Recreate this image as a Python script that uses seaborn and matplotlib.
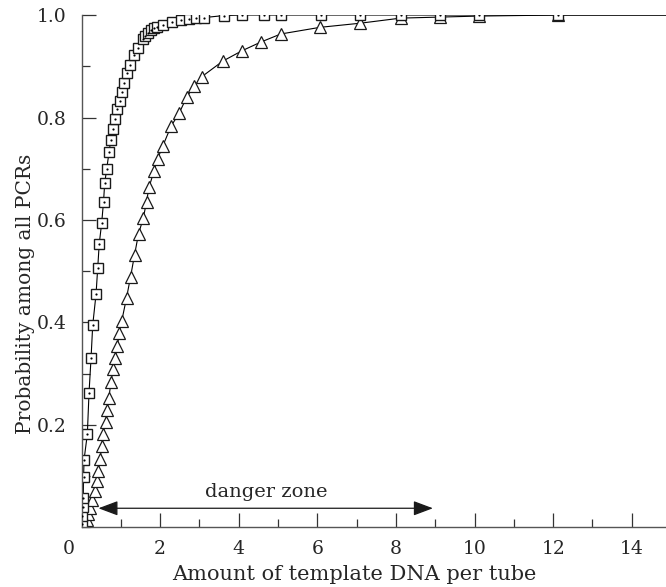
import matplotlib
matplotlib.use('Agg')
import matplotlib.pyplot as plt
import matplotlib.transforms as mtransforms
from matplotlib.ticker import MultipleLocator
import seaborn as sns

# squares series
sq_x = [0.010, 0.015, 0.025, 0.045, 0.052, 0.064, 0.148, 0.191, 0.242, 0.285,
        0.369, 0.412, 0.450, 0.514, 0.560, 0.590, 0.641, 0.700, 0.743, 0.794,
        0.852, 0.911, 0.972, 1.023, 1.081, 1.150, 1.234, 1.344, 1.430, 1.557,
        1.616, 1.692, 1.768, 1.845, 1.921, 2.066, 2.310, 2.524, 2.723, 2.913,
        3.117, 3.626, 4.084, 4.644, 5.076, 6.094, 7.087, 8.130, 9.120, 10.11,
        12.12, 15.0]
sq_y = [0.007, 0.022, 0.039, 0.058, 0.098, 0.132, 0.182, 0.263, 0.330, 0.395,
        0.455, 0.506, 0.553, 0.595, 0.636, 0.672, 0.700, 0.732, 0.756, 0.777,
        0.797, 0.816, 0.833, 0.850, 0.868, 0.886, 0.903, 0.922, 0.936, 0.953,
        0.959, 0.965, 0.970, 0.974, 0.977, 0.980, 0.986, 0.990, 0.993, 0.994,
        0.995, 0.999, 1.0, 1.0, 1.0, 1.0, 1.0, 1.0, 1.0, 1.0,
        1.0, 1.0]

# triangles series
tri_x = [0.064, 0.127, 0.173, 0.216, 0.267, 0.344, 0.387, 0.427, 0.471, 0.514,
         0.547, 0.611, 0.649, 0.695, 0.751, 0.802, 0.858, 0.911, 0.962, 1.023,
         1.145, 1.247, 1.349, 1.450, 1.573, 1.654, 1.718, 1.845, 1.934, 2.066,
         2.277, 2.481, 2.684, 2.870, 3.066, 3.593, 4.076, 4.555, 5.069, 6.069,
         7.087, 8.122, 9.122, 10.12, 12.12, 15.0]
tri_y = [0.004, 0.015, 0.026, 0.038, 0.054, 0.071, 0.091, 0.110, 0.133, 0.159,
         0.182, 0.206, 0.229, 0.253, 0.284, 0.309, 0.331, 0.354, 0.380, 0.403,
         0.448, 0.489, 0.532, 0.573, 0.604, 0.636, 0.664, 0.696, 0.719, 0.744,
         0.783, 0.808, 0.841, 0.861, 0.880, 0.910, 0.930, 0.947, 0.963, 0.976,
         0.984, 0.994, 0.996, 0.998, 1.000, 1.0]

x_ticks = [0, 2, 4, 6, 8, 10, 12, 14]
y_ticks = [0.2, 0.4, 0.6, 0.8, 1.0]
danger_start, danger_end, danger_level = 0.43, 8.94, 0.0375

sns.set_style('ticks')
plt.rcParams['font.family'] = ['DejaVu Serif']

fig = plt.figure(figsize=(6.66, 5.87), dpi=100)
ax = fig.add_axes([0.1224, 0.1014, 0.8776, 0.873])

sns.lineplot(x=tri_x, y=tri_y, ax=ax, estimator=None, sort=False,
             color='black', lw=0.8, marker='^', markersize=8,
             markerfacecolor='white', markeredgecolor='#1a1a1a', markeredgewidth=0.9,
             markevery=list(range(len(tri_x) - 1)))
sns.lineplot(x=sq_x, y=sq_y, ax=ax, estimator=None, sort=False,
             color='black', lw=0.8, marker='s', markersize=6.5,
             markerfacecolor='white', markeredgecolor='#1a1a1a', markeredgewidth=1.0,
             markevery=list(range(len(sq_x) - 1)))
sns.scatterplot(x=sq_x[:-1], y=sq_y[:-1], ax=ax, marker='o', s=2.5,
                color='black', linewidth=0, zorder=5)

ax.annotate('', xy=(danger_start, danger_level), xytext=(danger_end, danger_level),
            arrowprops=dict(arrowstyle='<|-|>,head_length=1.2,head_width=0.45',
                            mutation_scale=10, color='#1a1a1a', lw=0.9,
                            shrinkA=0, shrinkB=0))
ax.text(4.7, 0.069, 'danger zone', ha='center', va='center', fontsize=14)

ax.set_xlim(0, 14.87)
ax.set_ylim(0, 1.0)
ax.set_xticks(x_ticks)
ax.set_xticklabels([str(t) for t in x_ticks])
ax.set_yticks(y_ticks)
ax.set_yticklabels([f'{t:.1f}' for t in y_ticks])
ax.xaxis.set_minor_locator(MultipleLocator(1))
ax.yaxis.set_minor_locator(MultipleLocator(0.1))
ax.tick_params(which='major', direction='in', length=10, width=0.9, color='#333333',
               labelsize=13.5)
ax.tick_params(which='minor', direction='in', length=6, width=0.9, color='#333333')
ax.tick_params(axis='y', pad=11)
ax.tick_params(axis='x', pad=9)

# the origin label sits left of the corner
lbl = ax.get_xticklabels()[0]
lbl.set_transform(lbl.get_transform() + mtransforms.ScaledTranslation(-0.13, 0, fig.dpi_scale_trans))

for side in ['top', 'right']:
    ax.spines[side].set_visible(False)
for side in ['left', 'bottom']:
    ax.spines[side].set_color('#555555')
    ax.spines[side].set_linewidth(1)

ax.set_xlabel('Amount of template DNA per tube', fontsize=15)
ax.set_ylabel('Probability among all PCRs', fontsize=14.5)
ax.xaxis.set_label_coords(0.466, -0.074)
ax.yaxis.set_label_coords(-0.095, 0.456)
ax.yaxis.label.set_verticalalignment('center')

fig.savefig('out.png', dpi=100)
